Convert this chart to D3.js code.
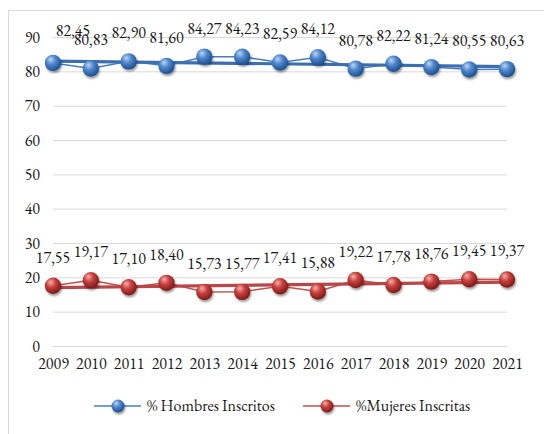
<!DOCTYPE html>
<html><head><meta charset="utf-8">
<script src="https://cdn.jsdelivr.net/npm/d3@7"></script>
<style>body{margin:0;background:#fff}svg{display:block}</style>
</head><body>
<script>
const years = ["2009","2010","2011","2012","2013","2014","2015","2016","2017","2018","2019","2020","2021"];
const hombres = [82.45,80.83,82.90,81.60,84.27,84.23,82.59,84.12,80.78,82.22,81.24,80.55,80.63];
const mujeres = [17.55,19.17,17.10,18.40,15.73,15.77,17.41,15.88,19.22,17.78,18.76,19.45,19.37];
const yTicks = [0,10,20,30,40,50,60,70,80,90];
const seriesNames = ["% Hombres Inscritos","%Mujeres Inscritas"];

const FONT = "'EB Garamond'";
const W=544,H=434;
const svg=d3.select("body").append("svg").attr("width",W).attr("height",H);
const defs=svg.append("defs");
function grad(id,light,mid,dark){
  const g=defs.append("radialGradient").attr("id",id).attr("cx","40%").attr("cy","35%").attr("r","65%").attr("fx","35%").attr("fy","28%");
  g.append("stop").attr("offset","0%").attr("stop-color",light);
  g.append("stop").attr("offset","45%").attr("stop-color",mid);
  g.append("stop").attr("offset","100%").attr("stop-color",dark);
}
grad("gb","#b9d5f5","#4f86cc","#1d4f8f");
grad("gr","#f3b1ae","#c9403c","#7c1a18");
const sh=defs.append("filter").attr("id","sh").attr("x","-50%").attr("y","-50%").attr("width","200%").attr("height","200%");
sh.append("feGaussianBlur").attr("in","SourceAlpha").attr("stdDeviation",1.2);
sh.append("feOffset").attr("dx",1).attr("dy",1.5).attr("result","b");
sh.append("feComponentTransfer").append("feFuncA").attr("type","linear").attr("slope",0.4);
const mg=sh.append("feMerge");mg.append("feMergeNode");mg.append("feMergeNode").attr("in","SourceGraphic");

svg.append("rect").attr("x",8.5).attr("y",10.5).attr("width",W).attr("height",H).attr("fill","none").attr("stroke","#d9d9d9");

const x=d3.scalePoint().domain(years).range([53,507]);
const y=d3.scaleLinear().domain([0,90]).range([346,37]);

const gy=svg.append("g").attr("transform","translate(53,0)")
  .call(d3.axisLeft(y).tickValues(yTicks).tickSize(-454).tickPadding(13).tickFormat(d3.format("d")));
gy.select(".domain").remove();
gy.selectAll(".tick line").attr("stroke","#d9d9d9").attr("stroke-width",1);
gy.selectAll(".tick text").style("font-family",FONT).style("font-size","16px").attr("fill","#1a1a1a");

const gx=svg.append("g").attr("transform","translate(0,346)")
  .call(d3.axisBottom(x).tickSize(0).tickPadding(12));
gx.select(".domain").remove();
gx.selectAll(".tick text").style("font-family",FONT).style("font-size","16px").attr("fill","#1a1a1a");

const fmt=v=>v.toFixed(2).replace(".",",");
function regress(vals){
  const n=vals.length, xs=vals.map((_,i)=>i);
  const mx=d3.mean(xs),my=d3.mean(vals);
  const b=d3.sum(xs.map((xi,i)=>(xi-mx)*(vals[i]-my)))/d3.sum(xs.map(xi=>(xi-mx)**2));
  return [my-b*mx, my-b*mx+b*(n-1)];
}
const series=[
  {vals:hombres,line:"#4a7ebb",trend:"#3c6fb0",g:"url(#gb)"},
  {vals:mujeres,line:"#c0504d",trend:"#b9474a",g:"url(#gr)"}
];
series.forEach(s=>{
  const line=d3.line().x((d,i)=>x(years[i])).y(d=>y(d));
  svg.append("path").attr("d",line(s.vals)).attr("fill","none").attr("stroke",s.line).attr("stroke-width",1.5);
  const t=regress(s.vals);
  svg.append("line").attr("x1",x(years[0])).attr("x2",x(years[years.length-1])).attr("y1",y(t[0])).attr("y2",y(t[1]))
    .attr("stroke",s.trend).attr("stroke-width",3.2);
  svg.append("g").selectAll("circle").data(s.vals).join("circle")
    .attr("cx",(d,i)=>x(years[i])).attr("cy",d=>y(d)).attr("r",8.2).attr("fill",s.g).attr("filter","url(#sh)");
  svg.append("g").selectAll("text").data(s.vals).join("text")
    .attr("x",(d,i)=>x(years[i])+(s.vals===hombres&&i===0?20:0))
    .attr("y",(d,i)=>y(d)-23-(s.vals===hombres&&i===0?4:0))
    .attr("text-anchor","middle").style("font-family",FONT).style("font-size","16px").attr("fill","#1a1a1a").text(fmt);
});

const leg=[{name:seriesNames[0],x0:94,c:"#4a7ebb",g:"url(#gb)"},{name:seriesNames[1],x0:303,c:"#c0504d",g:"url(#gr)"}];
leg.forEach(l=>{
  const g=svg.append("g");
  g.append("line").attr("x1",l.x0).attr("x2",l.x0+47).attr("y1",406).attr("y2",406).attr("stroke",l.c).attr("stroke-width",1.5);
  g.append("circle").attr("cx",l.x0+24).attr("cy",406).attr("r",6.5).attr("fill",l.g).attr("filter","url(#sh)");
  g.append("text").attr("x",l.x0+53).attr("y",411).style("font-family",FONT).style("font-size","16px").attr("fill","#1a1a1a").text(l.name);
});
</script>
</body></html>
